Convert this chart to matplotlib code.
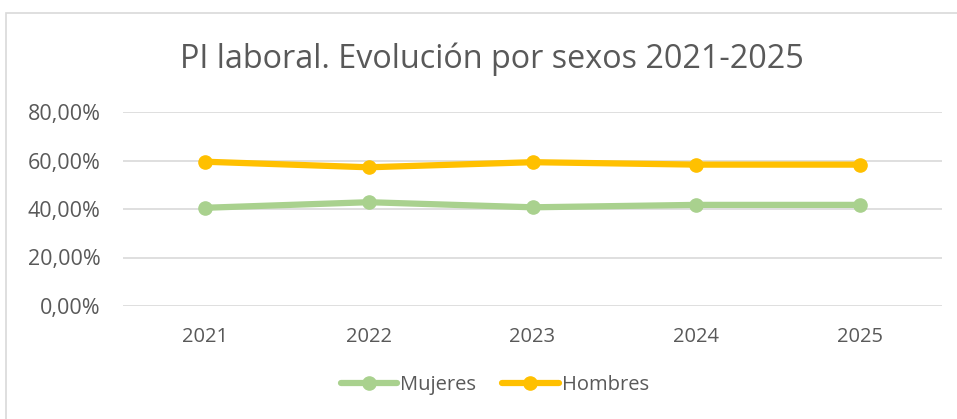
import matplotlib.pyplot as plt
from matplotlib.patches import Rectangle
from matplotlib.ticker import FuncFormatter

years = ['2021', '2022', '2023', '2024', '2025']
mujeres = [0.405, 0.428, 0.407, 0.417, 0.417]
hombres = [0.595, 0.572, 0.593, 0.583, 0.583]

plt.rcParams['font.family'] = ['Open Sans', 'DejaVu Sans']
txt = '#595959'

fig = plt.figure(figsize=(9.57, 4.19), dpi=100)
# chart frame (only left and top edges visible in the reference)
fig.patches.append(Rectangle((6 / 957, -0.1), 1.2, 1 - 13.5 / 419 + 0.1,
                             transform=fig.transFigure, fill=False,
                             edgecolor='#D9D9D9', linewidth=1.2))

ax = fig.add_axes([123 / 957, 1 - 306 / 419, (942 - 123) / 957, (306 - 112) / 419])
x = range(len(years))
ax.plot(x, mujeres, color='#A9D18E', lw=4.5, marker='o', ms=9.5, label='Mujeres',
        solid_joinstyle='round', solid_capstyle='round')
ax.plot(x, hombres, color='#FFC000', lw=4.5, marker='o', ms=9.5, label='Hombres',
        solid_joinstyle='round', solid_capstyle='round')

ax.set_xlim(-0.5, len(years) - 0.5)
ax.set_ylim(0, 0.8)
ax.set_yticks([0, 0.2, 0.4, 0.6, 0.8])
ax.yaxis.set_major_formatter(FuncFormatter(lambda v, p: f'{v * 100:.2f}%'.replace('.', ',')))
ax.set_xticks(list(x))
ax.set_xticklabels(years)
ax.grid(axis='y', color='#D9D9D9', lw=1.2)
ax.set_axisbelow(True)
for s in ax.spines.values():
    s.set_visible(False)
ax.tick_params(axis='both', length=0, labelsize=14.5, colors=txt)
ax.tick_params(axis='y', labelsize=15.5, pad=16)
ax.tick_params(axis='x', pad=15)

fig.text(0.514, 0.858, 'PI laboral. Evolución por sexos 2021-2025', ha='center', va='center',
         fontsize=23.3, color=txt)
fig.legend(loc='center', bbox_to_anchor=(0.517, 0.081), ncol=2, frameon=False,
           fontsize=14.5, labelcolor=txt, handlelength=2.8, handletextpad=0.15,
           columnspacing=1.3)

fig.savefig('out.png', dpi=100)
